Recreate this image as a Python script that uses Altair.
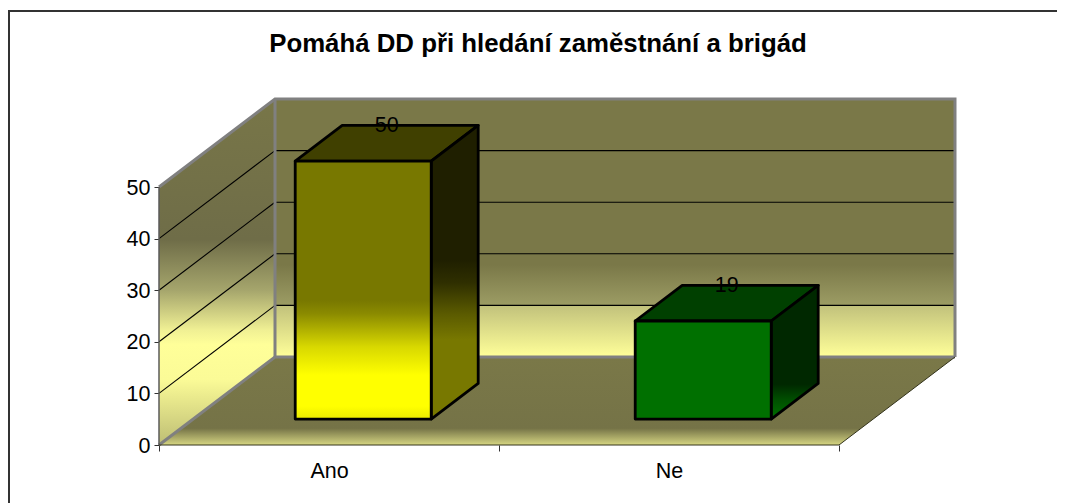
import altair as alt
import pandas as pd

# ---- chart values -------------------------------------------------------
title_text = "Pomáhá DD při hledání zaměstnání a brigád"
categories = ["Ano", "Ne"]
values = [50, 19]
y_ticks = [0, 10, 20, 30, 40, 50]
x_axis_values = [0, 0.5, 1, 1.5, 2]

# ---- oblique projection settings (data units) ----------------------------
KX = 116 / 340      # horizontal shift of the back wall, in category units
KY = 88 / 5.16      # vertical shift of the back wall, in value units
Y_MAX = 50
D0, D1 = 0.295, 0.70    # depth of the bars' front and back faces
B0, B1 = 0.3, 0.7       # bar extent inside its category

FONT = "Liberation Sans"


def px(x, d):
    return x + d * KX


def py(v, d):
    return v + d * KY


x_scale = alt.Scale(domain=[0, 2 + KX], range=[0, 796], nice=False, zero=False)
y_scale = alt.Scale(domain=[0, Y_MAX + KY], range=[346, 0], nice=False, zero=False)

label_expr = " : ".join(f"datum.value == {i + 0.5} ? '{c}'" for i, c in enumerate(categories)) + " : ''"
x_axis = alt.Axis(
    values=x_axis_values, labelExpr=label_expr, grid=False, domain=False,
    tickSize=6, tickColor="#333333", tickOpacity={"expr": "datum.value % 1 == 0 ? 1 : 0"},
    labelFont=FONT, labelFontSize=21.5, labelColor="#000000", labelPadding=9,
    labelOverlap=False, labelFlush=False, labelAngle=0,
)
y_axis = alt.Axis(
    values=y_ticks, grid=False, domain=False, tickSize=5, tickColor="#333333",
    labelFont=FONT, labelFontSize=21.5, labelColor="#000000", labelPadding=4, labelOffset=1,
    labelOverlap=False, labelFlush=False,
)


def X(f):
    return alt.X(f, scale=x_scale, axis=x_axis, title=None)


def Y(f):
    return alt.Y(f, scale=y_scale, axis=y_axis, title=None)


def grad(stops):
    return alt.Gradient(
        gradient="linear", x1=0, y1=0, x2=0, y2=1,
        stops=[alt.GradientStop(offset=o, color=c) for o, c in stops],
    )


def vface(x0, x1, bot0, top0, bot1, top1, fill, **kw):
    """Area whose left and right edges are vertical."""
    df = pd.DataFrame({"x": [x0, x1], "y": [bot0, bot1], "y2": [top0, top1]})
    return alt.Chart(df).mark_area(color=fill, clip=False, **kw).encode(
        x=X("x:Q"), y=Y("y:Q"), y2="y2:Q",
    )


def hface(y0, y1, l0, r0, l1, r1, fill, **kw):
    """Area whose top and bottom edges are horizontal."""
    df = pd.DataFrame({"y": [y0, y1], "x": [l0, l1], "x2": [r0, r1]})
    return alt.Chart(df).mark_area(color=fill, orient="horizontal", clip=False, **kw).encode(
        y=Y("y:Q"), x=X("x:Q"), x2="x2:Q",
    )


def lines(rows, color, width):
    df = pd.DataFrame(rows, columns=["g", "x", "y"])
    return alt.Chart(df).mark_line(color=color, strokeWidth=width, clip=False).encode(
        x=X("x:Q"), y=Y("y:Q"),
        detail="g:N",
        order=alt.Order("o:Q"),
    ).transform_window(o="row_number()", groupby=["g"])


# ---- walls and floor ------------------------------------------------------
back_wall = vface(px(0, 1), px(2, 1), py(0, 1), py(Y_MAX, 1), py(0, 1), py(Y_MAX, 1), grad([
    (0, "#7a7848"), (0.643, "#7a7848"), (0.798, "#9c9c64"), (0.802, "#c2c27c"), (1, "#ffff99"),
]))
left_wall = vface(px(0, 0), px(0, 1), py(0, 0), py(Y_MAX, 0), py(0, 1), py(Y_MAX, 1), grad([
    (0, "#787648"), (0.407, "#6f6d48"), (0.552, "#a5a56c"), (0.668, "#f0f094"),
    (0.71, "#ffff99"), (0.81, "#fbfb97"), (1, "#bdbd74"),
]))
floor = hface(py(0, 1), py(0, 0), px(0, 1), px(2, 1), px(0, 0), px(2, 0), grad([
    (0, "#7a7848"), (0.81, "#757347"), (1, "#d6d682"),
]))

# ---- grid lines -----------------------------------------------------------
grid_rows = []
for t in y_ticks[1:-1]:
    grid_rows += [(f"l{t}", px(0, 0), py(t, 0)), (f"l{t}", px(0, 1), py(t, 1))]
    grid_rows += [(f"b{t}", px(0, 1), py(t, 1)), (f"b{t}", px(2, 1), py(t, 1))]
grid = lines(grid_rows, "#000000", 1.1)

wall_edges = lines([
    ("a", px(0, 0), py(0, 0)), ("a", px(0, 1), py(0, 1)), ("a", px(2, 1), py(0, 1)),
    ("b", px(0, 0), py(Y_MAX, 0)), ("b", px(0, 1), py(Y_MAX, 1)), ("b", px(2, 1), py(Y_MAX, 1)),
    ("b", px(2, 1), py(0, 1)),
    ("c", px(0, 1), py(0, 1)), ("c", px(0, 1), py(Y_MAX, 1)),
], "#808080", 3)

left_edge = lines([
    ("l", px(0, 0), py(Y_MAX, 0)), ("l", px(0, 0), py(0, 0)),
], "#5a5a5a", 1.5)
front_edge = lines([
    ("f", px(0, 0), py(0, 0)), ("f", px(2, 0), py(0, 0)), ("f", px(2, 1), py(0, 1)),
], "#33331a", 1)

# ---- bars -----------------------------------------------------------------
bar_fills = [
    {
        "front": grad([(0, "#787800"), (0.54, "#787800"), (0.59, "#8a8a00"), (0.72, "#d8d800"),
                       (0.83, "#ffff00"), (0.95, "#ffff00"), (1, "#eaea00")]),
        "side": grad([(0, "#1f1f00"), (0.457, "#1f1f00"), (0.536, "#2f2f00"), (0.64, "#5a5a00"),
                      (0.73, "#787800"), (1, "#787800")]),
        "top": "#404000",
    },
    {
        "front": "#007000",
        "side": grad([(0, "#002800"), (0.74, "#002800"), (0.86, "#005000"), (1, "#007000")]),
        "top": "#004000",
    },
]

bar_layers = []
edge = dict(stroke="#000000", strokeWidth=2.8, strokeJoin="round")
for i, v in enumerate(values):
    a, b = i + B0, i + B1
    f = bar_fills[i]
    bar_layers.append(hface(py(v, D0), py(v, D1), px(a, D0), px(b, D0), px(a, D1), px(b, D1), f["top"], **edge))
    bar_layers.append(vface(px(b, D0), px(b, D1), py(0, D0), py(v, D0), py(0, D1), py(v, D1), f["side"], **edge))
    bar_layers.append(vface(px(a, D0), px(b, D0), py(0, D0), py(v, D0), py(0, D0), py(v, D0), f["front"], **edge))

# ---- data labels ----------------------------------------------------------
D_MID = (D0 + D1) / 2
label_df = pd.DataFrame({
    "x": [px(i + 0.5, D_MID) for i in range(len(values))],
    "y": [py(v, D1) for v in values],
    "t": [str(v) for v in values],
})
data_labels = alt.Chart(label_df).mark_text(
    font=FONT, fontSize=21.5, color="#000000", baseline="middle", align="center", dy=1
).encode(x=X("x:Q"), y=Y("y:Q"), text="t:N")

# ---- outer chart border ---------------------------------------------------
border_top = alt.Chart(pd.DataFrame({"a": [0]})).mark_rule(color="#333333", strokeWidth=2, clip=False).encode(
    x=alt.value(-151), x2=alt.value(898), y=alt.value(-88)
)
border_left = alt.Chart(pd.DataFrame({"a": [0]})).mark_rule(color="#333333", strokeWidth=2, clip=False).encode(
    x=alt.value(-150), y=alt.value(-88), y2=alt.value(410)
)

chart = alt.layer(
    back_wall, left_wall, floor, grid, wall_edges, left_edge, front_edge,
    *bar_layers, data_labels, border_top, border_left,
).properties(
    width=796,
    height=346,
    padding={"left": 151, "top": 91, "right": 102, "bottom": 58},
    autosize=alt.AutoSizeParams(type="none"),
    background="#ffffff",
    title=alt.TitleParams(
        text=title_text, font=FONT, fontSize=25.8, fontWeight="bold", color="#000000",
        anchor="middle", dx=-19, offset=-60, baseline="middle",
    ),
).configure_view(stroke=None)

chart.save("out.html", embed_options={"renderer": "svg", "actions": False})
